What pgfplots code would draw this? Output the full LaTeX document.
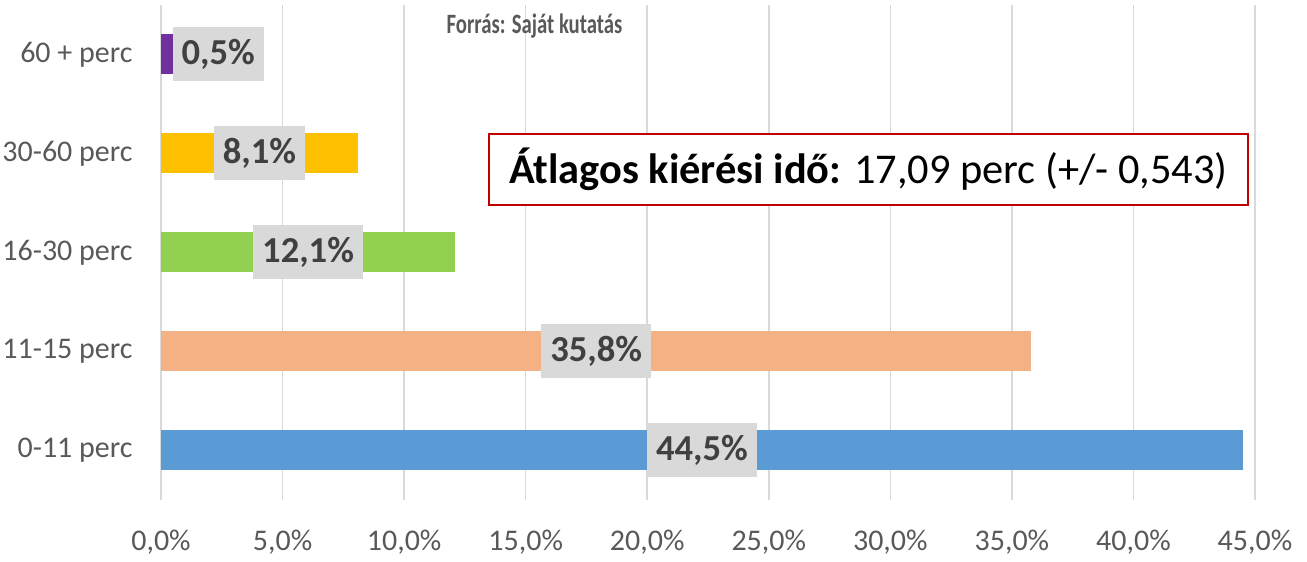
\documentclass[border=0pt]{standalone}
\usepackage{pgfplots}
\pgfplotsset{compat=1.18}
\usepackage{fontspec}
\setmainfont{Carlito}
\definecolor{cblue}{HTML}{5B9BD5}
\definecolor{corange}{HTML}{F4B183}
\definecolor{cgreen}{HTML}{92D050}
\definecolor{cyellow}{HTML}{FFC000}
\definecolor{cpurple}{HTML}{7030A0}
\definecolor{gridg}{HTML}{D9D9D9}
\definecolor{ticktxt}{HTML}{595959}
\definecolor{labtxt}{HTML}{404040}
\definecolor{boxred}{HTML}{C00000}
\begin{document}
\begin{tikzpicture}
\useasboundingbox (-80.5pt,-31pt) rectangle (573pt,250pt);
\begin{axis}[
  scale only axis,
  width=547pt, height=247.5pt,
  xmin=0, xmax=45, ymin=-0.5, ymax=4.5,
  xbar, bar width=20pt, bar shift=0pt,
  xtick={0,5,...,45},
  ytick={0,1,2,3,4},
  yticklabels={0-11 perc,11-15 perc,16-30 perc,30-60 perc,60 + perc},
  /pgf/number format/assume math mode=true,
  xticklabel={\pgfmathprintnumber[fixed,fixed zerofill,precision=1,use comma]{\tick}\%},
  xmajorgrids, major grid style={gridg, line width=0.75pt},
  axis line style={draw=none},
  major tick length=0pt,
  tick style={draw=none},
  ticklabel style={font=\fontsize{15}{18}\selectfont, text=ticktxt},
  yticklabel style={inner sep=0pt, anchor=east, xshift=-14pt},
  xticklabel style={inner sep=0pt, anchor=north, yshift=-15pt},
  clip=false,
]
\addplot[draw=none, fill=cblue] coordinates {(44.5,0)};
\addplot[draw=none, fill=corange] coordinates {(35.8,1)};
\addplot[draw=none, fill=cgreen] coordinates {(12.1,2)};
\addplot[draw=none, fill=cyellow] coordinates {(8.1,3)};
\addplot[draw=none, fill=cpurple] coordinates {(0.5,4)};
\tikzset{dl/.style={fill=gridg, text=labtxt, font=\fontsize{18.3}{20}\bfseries\selectfont, inner xsep=4.5pt, inner ysep=0pt, minimum height=27pt, anchor=center}}
\node[dl] at (axis cs:22.25,0) {44,5\%};
\node[dl] at (axis cs:17.9,1) {35,8\%};
\node[dl] at (axis cs:6.05,2) {12,1\%};
\node[dl] at (axis cs:4.05,3) {8,1\%};
\node[dl] at (axis cs:2.35,4) {0,5\%};
\node[draw=boxred, line width=0.75pt, fill=white, minimum width=379.5pt, minimum height=35.5pt, inner sep=0pt, font=\fontsize{21.2}{24}\selectfont, anchor=center] at (axis cs:29.1,2.84) {\textbf{Átlagos kiérési idő:} 17,09 perc (+/- 0,543)};
\end{axis}
\node[font=\fontsize{14}{16}\bfseries\selectfont, text=ticktxt] at (186.75pt,237pt) {\scalebox{0.74}[1]{Forrás: Saját kutatás}};
\end{tikzpicture}
\end{document}
